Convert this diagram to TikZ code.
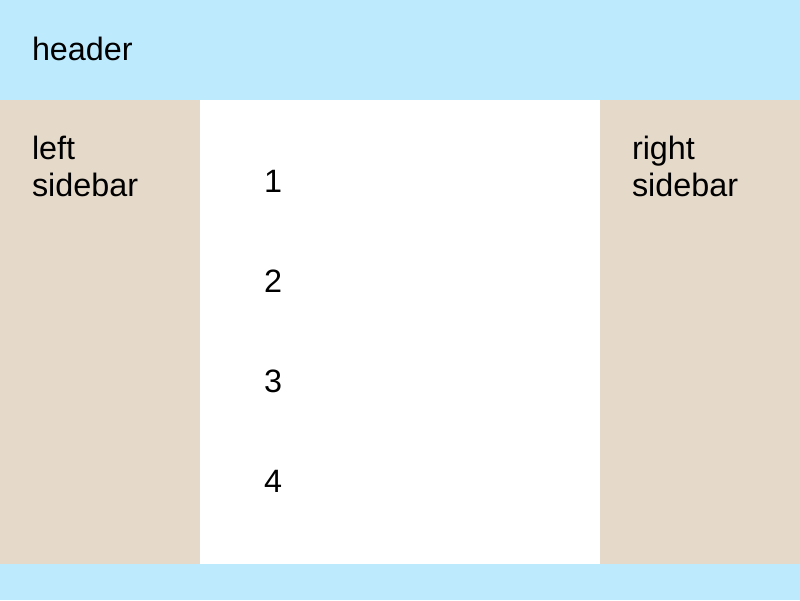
\documentclass[tikz,border=0pt]{standalone}
\usepackage{fontspec}
\setmainfont{Liberation Sans}
\usetikzlibrary{positioning}
\definecolor{headblue}{HTML}{BDEBFD}
\definecolor{sidebeige}{HTML}{E5D9CA}
\begin{document}
\begin{tikzpicture}[
      x=0.025cm, y=-0.025cm,
      every node/.style={inner sep=0pt, outer sep=0pt, anchor=base west,
        font=\fontsize{23pt}{26.2pt}\selectfont, align=left}
  ]
    \useasboundingbox (0,0) rectangle (800,600);

    % header and footer
    \fill[headblue] (0,0) rectangle (800,100);
    \fill[headblue] (0,564) rectangle (800,600);

    % sidebars
    \fill[sidebeige] (0,100) rectangle (200,564);
    \fill[sidebeige] (600,100) rectangle (800,564);
    \fill[white] (200,100) rectangle (600,564);

    \node (header) at (32,60) {header};
    \node (leftbar) at (32,196) {left\\sidebar};
    \node (rightbar) at (632,196) {right\\sidebar};

    \foreach \i in {1,...,4}
        \node (item\i) at (264,92+100*\i) {\i};

\end{tikzpicture}
\end{document}
